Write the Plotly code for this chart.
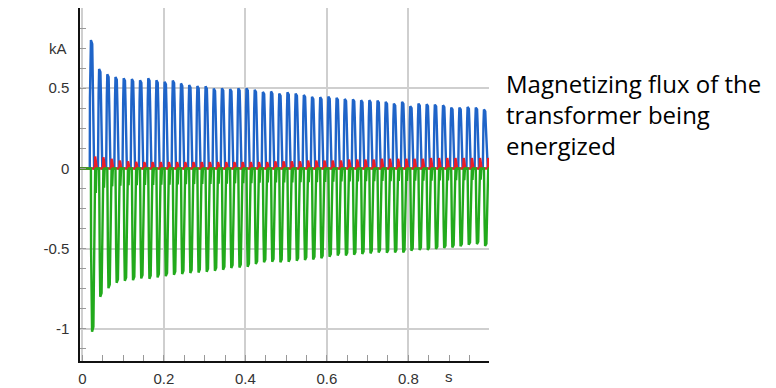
import numpy as np
import plotly.graph_objects as go

# ---- data (kA) ----
# peak of each 50 Hz cycle, phase A (blue, positive pulses)
phase_a_peaks = [0.80, 0.62, 0.5875, 0.57, 0.5625, 0.558, 0.55, 0.5625, 0.55, 0.54,
                 0.548, 0.53, 0.52, 0.514, 0.5125, 0.498, 0.50, 0.495, 0.50, 0.50,
                 0.49, 0.477, 0.48, 0.467, 0.475, 0.467, 0.458, 0.446, 0.444, 0.448,
                 0.44, 0.433, 0.431, 0.425, 0.425, 0.423, 0.415, 0.404, 0.415, 0.3875,
                 0.404, 0.40, 0.398, 0.394, 0.379, 0.379, 0.383, 0.379, 0.367]
# trough of each cycle, phase C (green, negative pulses)
phase_c_troughs = [-1.017, -0.80, -0.746, -0.7125, -0.70, -0.696, -0.685, -0.6875, -0.679, -0.671,
                   -0.6625, -0.658, -0.652, -0.648, -0.644, -0.6375, -0.631, -0.621, -0.617, -0.6125,
                   -0.596, -0.585, -0.581, -0.585, -0.581, -0.575, -0.571, -0.567, -0.56, -0.55,
                   -0.542, -0.542, -0.5375, -0.533, -0.529, -0.523, -0.525, -0.523, -0.523, -0.5125,
                   -0.508, -0.508, -0.502, -0.496, -0.492, -0.485, -0.475, -0.471, -0.483]
# small bump of each cycle, phase B (red)
phase_b_peaks = [0.075, 0.07, 0.06, 0.05, 0.045, 0.042, 0.04, 0.04, 0.04, 0.04,
                 0.04, 0.04, 0.04, 0.04, 0.04, 0.04, 0.04, 0.04, 0.04, 0.04,
                 0.04, 0.04, 0.045, 0.045, 0.045, 0.045, 0.05, 0.05, 0.05, 0.05,
                 0.05, 0.055, 0.055, 0.055, 0.055, 0.06, 0.06, 0.06, 0.06, 0.06,
                 0.06, 0.065, 0.065, 0.065, 0.065, 0.065, 0.065, 0.065, 0.065]

# one-cycle wave shapes: (fraction of cycle, fraction of the cycle's peak)
shape_a_phase = [0.00, 0.02, 0.08, 0.14, 0.30, 0.36, 0.42, 0.48, 0.53]
shape_a_value = [0.00, 0.55, 0.75, 1.00, 0.97, 0.75, 0.55, 0.20, 0.00]
shape_c_phase = [0.14, 0.16, 0.22, 0.28, 0.44, 0.50, 0.56, 0.61, 0.66, 0.74, 0.82]
shape_c_value = [0.00, 0.50, 0.72, 1.00, 0.97, 0.70, 0.45, 0.10, 0.00, 0.15, 0.00]
shape_b_phase = [0.62, 0.66, 0.72, 0.80, 0.86]
shape_b_value = [0.00, 1.00, 0.75, 0.30, 0.00]

t_switch = 0.0180      # s, energizing instant
period = 0.0201        # s, one cycle on the recorder's time axis
t_start, t_end = -0.006, 0.995

x_ticks = [0, 0.2, 0.4, 0.6, 0.8]
x_ticktext = ["0", "0.2", "0.4", "0.6", "0.8"]
y_ticks = [-1, -0.5, 0, 0.5]
y_ticktext = ["-1", "-0.5", "0", "0.5"]
note_lines = ["Magnetizing flux of the", "transformer being", "energized"]


def build(peaks, phases, values):
    ts, vs = [t_start, t_switch], [0.0, 0.0]
    for k, p in enumerate(peaks):
        c0 = t_switch + k * period
        for ph, v in zip(phases, values):
            ts.append(c0 + ph * period)
            vs.append(v * p)
    ts.append(t_end)
    vs.append(0.0)
    return ts, vs


ta, va = build(phase_a_peaks, shape_a_phase, shape_a_value)
tb, vb = build(phase_b_peaks, shape_b_phase, shape_b_value)
tc, vc = build(phase_c_troughs, shape_c_phase, shape_c_value)

fig = go.Figure()
fig.add_trace(go.Scatter(x=ta, y=va, mode="lines", line=dict(color="#1f64c8", width=2.4), showlegend=False))
fig.add_trace(go.Scatter(x=tb, y=vb, mode="lines", line=dict(color="#ee1c25", width=2.4), showlegend=False))
fig.add_trace(go.Scatter(x=tc, y=vc, mode="lines", line=dict(color="#22aa1c", width=2.4), showlegend=False))

tickfont = dict(family="Liberation Sans, Arial, sans-serif", size=15, color="#333333")

annotations = [
    dict(text="kA", x=0, xref="paper", y=0.75, yref="y", xanchor="right", yanchor="middle",
         xshift=-11, showarrow=False, font=tickfont),
    dict(text="s", x=0.9, xref="x", y=0, yref="paper", xanchor="center", yanchor="top",
         yshift=-5, showarrow=False, font=tickfont),
    dict(text="<br>".join(note_lines), x=1.0, xref="paper", xshift=15, y=1.0, yref="paper",
         yshift=-106, xanchor="left", yanchor="middle", align="left", showarrow=False,
         font=dict(family="Open Sans, sans-serif", size=24, color="#000000")),
]

# the page body has an 8 px margin, so the figure is offset by 8 px
fig.update_layout(
    width=776, height=388,
    margin=dict(l=72, r=295, t=0, b=35, autoexpand=False),
    paper_bgcolor="white", plot_bgcolor="white",
    xaxis=dict(range=[t_start, 0.998], tickvals=x_ticks, ticktext=x_ticktext,
               showgrid=True, gridcolor="#cfcfcf", gridwidth=1.5, zeroline=False,
               showline=True, linecolor="#111111", linewidth=1.5,
               ticks="inside", ticklen=6, tickcolor="#999999",
               minor=dict(dtick=0.05, tick0=0, ticks="inside", ticklen=6, tickcolor="#999999", showgrid=False),
               tickfont=tickfont, ticklabelstandoff=3),
    yaxis=dict(range=[-1.2, 1.0], tickvals=y_ticks, ticktext=y_ticktext,
               showgrid=True, gridcolor="#cfcfcf", gridwidth=1.5, zeroline=False,
               showline=True, linecolor="#111111", linewidth=1.5,
               ticks="inside", ticklen=6, tickcolor="#999999",
               minor=dict(dtick=0.125, tick0=0, ticks="inside", ticklen=6, tickcolor="#999999", showgrid=False),
               tickfont=tickfont, ticklabelstandoff=6),
    annotations=annotations,
)

fig.write_html("out.html")
